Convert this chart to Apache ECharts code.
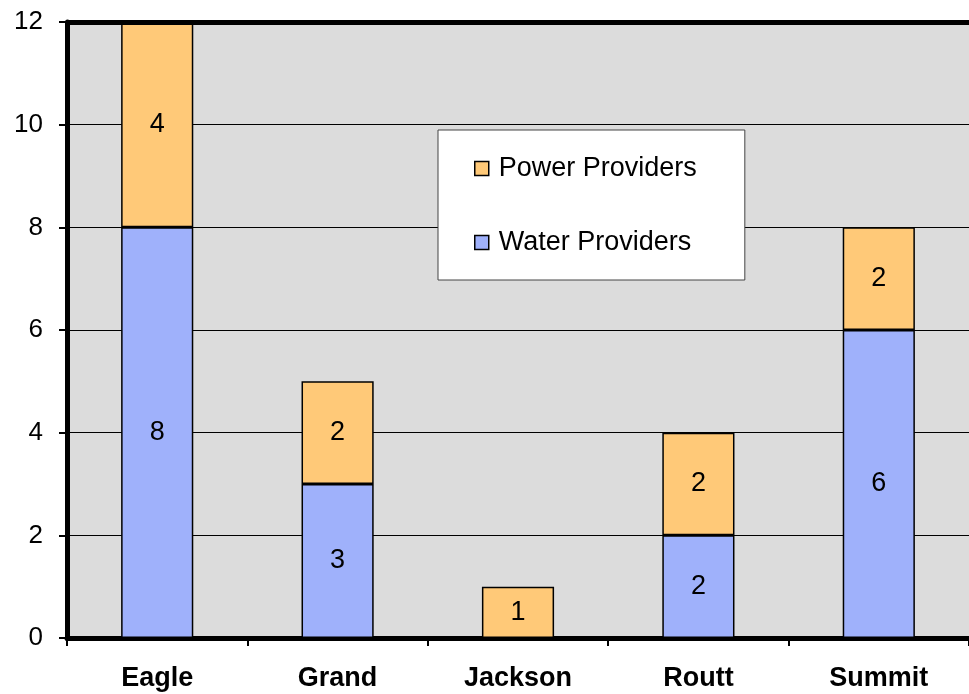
<!DOCTYPE html>
<html>
<head>
<meta charset="utf-8">
<script src="https://cdn.jsdelivr.net/npm/echarts@6/dist/echarts.min.js"></script>
<style>
  html, body { margin: 0; padding: 0; background: #fff; }
  #chart { width: 969px; height: 694px; }
</style>
</head>
<body>
<div id="chart"></div>
<script>
// data
const categories = ['Eagle', 'Grand', 'Jackson', 'Routt', 'Summit'];
const waterProviders = [8, 3, 0, 2, 6];
const powerProviders = [4, 2, 1, 2, 2];
const yTicks = [0, 2, 4, 6, 8, 10, 12];

const FONT = '"Liberation Sans", Arial, sans-serif';

const chart = echarts.init(document.getElementById('chart'));

const barLabel = {
  show: true,
  position: 'inside',
  color: '#000',
  fontFamily: FONT,
  fontSize: 27,
  formatter: p => (p.value ? String(p.value) : '')
};

chart.setOption({
  animation: false,
  backgroundColor: '#fff',
  grid: {
    left: 67, top: 22, width: 910, height: 616,
    show: true,
    backgroundColor: '#dcdcdc',
    borderColor: '#000',
    borderWidth: 0
  },
  legend: {
    orient: 'vertical',
    left: 438, top: 130,
    padding: [25, 48, 24, 36],
    itemGap: 47,
    icon: 'rect',
    itemWidth: 14, itemHeight: 14,
    backgroundColor: '#fff',
    borderColor: '#444',
    borderWidth: 1,
    borderRadius: 0,
    data: ['Power Providers', 'Water Providers'],
    textStyle: { fontFamily: FONT, fontSize: 27, color: '#000', padding: [0, 0, 0, 5] },
    itemStyle: { borderColor: '#000', borderWidth: 1.5 }
  },
  xAxis: {
    type: 'category',
    data: categories,
    axisLine: { show: true, lineStyle: { color: '#000', width: 5 } },
    axisTick: { show: true, length: 8, lineStyle: { color: '#000', width: 2 } },
    axisLabel: { color: '#000', fontFamily: FONT, fontSize: 27, fontWeight: 'bold', margin: 27 },
    splitLine: { show: false }
  },
  yAxis: {
    type: 'value',
    min: yTicks[0],
    max: yTicks[yTicks.length - 1],
    interval: 2,
    axisLine: { show: true, lineStyle: { color: '#000', width: 5 } },
    axisTick: { show: true, length: 8, lineStyle: { color: '#000', width: 2 } },
    axisLabel: { color: '#000', fontFamily: FONT, fontSize: 26, margin: 24 },
    splitLine: { show: true, lineStyle: { color: '#000', width: 1 } }
  },
  series: [
    {
      name: 'Water Providers',
      type: 'bar',
      stack: 'total',
      barWidth: '40%',
      data: waterProviders,
      itemStyle: { color: '#9fb1fb', borderColor: '#000', borderWidth: 1.5 },
      label: barLabel
    },
    {
      name: 'Power Providers',
      type: 'bar',
      stack: 'total',
      barWidth: '40%',
      data: powerProviders,
      itemStyle: { color: '#ffc978', borderColor: '#000', borderWidth: 1.5 },
      label: barLabel
    },
    {
      // thick top border of the plot area
      type: 'line',
      data: [],
      markLine: {
        silent: true,
        symbol: 'none',
        label: { show: false },
        lineStyle: { color: '#000', width: 5, type: 'solid' },
        data: [{ yAxis: yTicks[yTicks.length - 1] }]
      }
    }
  ]
});
</script>
</body>
</html>
